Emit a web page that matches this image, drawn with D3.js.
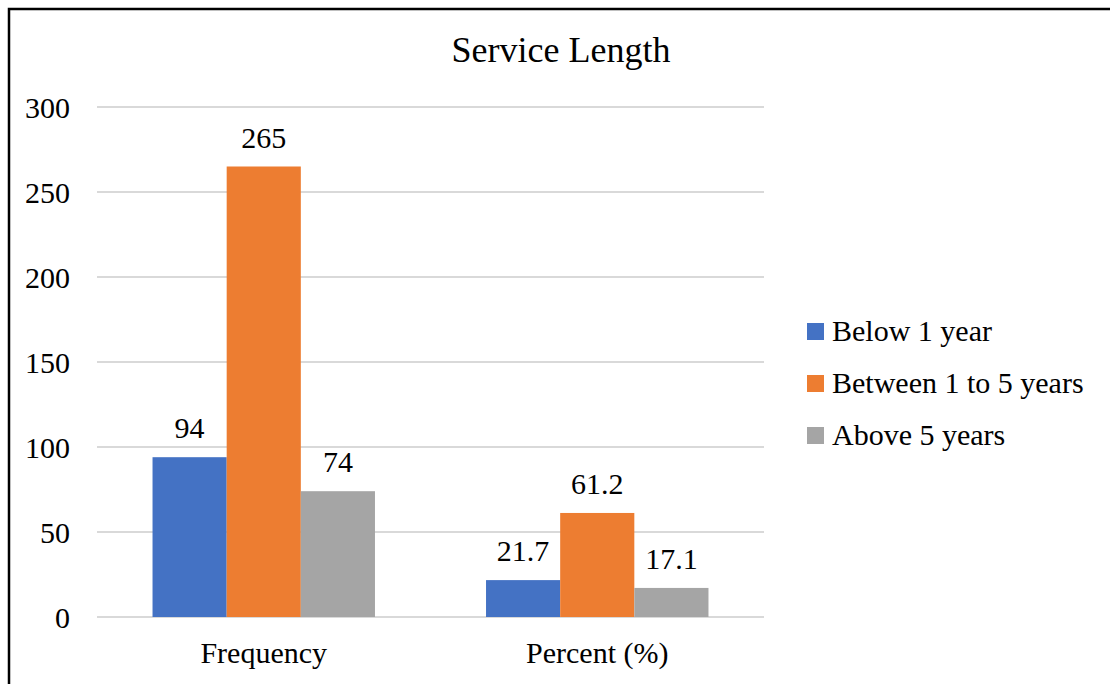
<!DOCTYPE html>
<html>
<head>
<meta charset="utf-8">
<script src="https://cdn.jsdelivr.net/npm/d3@7"></script>
<style>
  html, body { margin: 0; padding: 0; background: #fff; }
  svg { display: block; }
  text { font-family: "Liberation Serif", "DejaVu Serif", serif; fill: #000; }
</style>
</head>
<body>
<svg id="chart" width="1110" height="684"></svg>
<script>
// Service length survey results
const categories = ["Frequency", "Percent (%)"];
const seriesNames = ["Below 1 year", "Between 1 to 5 years", "Above 5 years"];
const belowOne = [94, 21.7];
const oneToFive = [265, 61.2];
const aboveFive = [74, 17.1];
const yTicks = [0, 50, 100, 150, 200, 250, 300];
const colors = ["#4472c4", "#ed7d31", "#a5a5a5"];

const seriesValues = [belowOne, oneToFive, aboveFive];

const svg = d3.select("#chart");
const W = 1110, H = 684;
const FS = 30;

// outer frame (left, top; right and bottom run past the edge)
svg.append("rect")
  .attr("x", 9).attr("y", 9)
  .attr("width", W + 10).attr("height", H + 10)
  .attr("fill", "#fff").attr("stroke", "#000").attr("stroke-width", 2.5);

const plot = { left: 97, right: 764, top: 107, bottom: 617 };

const x0 = d3.scaleBand().domain(categories)
  .range([plot.left, plot.right]).paddingInner(0.333).paddingOuter(0.1665);
const x1 = d3.scaleBand().domain(seriesNames)
  .range([0, x0.bandwidth()]).padding(0);
const y = d3.scaleLinear().domain([0, 300]).range([plot.bottom, plot.top]);

// title
svg.append("text")
  .attr("x", 561).attr("y", 62)
  .attr("text-anchor", "middle")
  .attr("font-size", 36)
  .text("Service Length");

// gridlines
svg.append("g").selectAll("line").data(yTicks).join("line")
  .attr("x1", plot.left).attr("x2", plot.right)
  .attr("y1", d => y(d)).attr("y2", d => y(d))
  .attr("stroke", "#d9d9d9").attr("stroke-width", 2);

// y axis labels
const yAxis = d3.axisLeft(y).tickValues(yTicks).tickSize(0).tickPadding(27);
const yg = svg.append("g").attr("transform", `translate(${plot.left},0)`).call(yAxis);
yg.select(".domain").remove();
yg.selectAll("text")
  .attr("font-size", FS)
  .attr("fill", "#000")
  .attr("dy", "0.35em");

// x axis labels
const xAxis = d3.axisBottom(x0).tickSize(0).tickPadding(25);
const xg = svg.append("g").attr("transform", `translate(0,${plot.bottom})`).call(xAxis);
xg.select(".domain").remove();
xg.selectAll("text")
  .attr("font-size", FS)
  .attr("fill", "#000");

// bars with value labels
const groups = svg.append("g").selectAll("g").data(categories).join("g")
  .attr("transform", d => `translate(${x0(d)},0)`);

groups.each(function(cat, ci) {
  const g = d3.select(this);
  seriesNames.forEach((s, si) => {
    const v = seriesValues[si][ci];
    g.append("rect")
      .attr("x", x1(s))
      .attr("y", y(v))
      .attr("width", x1.bandwidth())
      .attr("height", y(0) - y(v))
      .attr("fill", colors[si]);
    g.append("text")
      .attr("x", x1(s) + x1.bandwidth() / 2)
      .attr("y", y(v) - 19)
      .attr("text-anchor", "middle")
      .attr("font-size", FS)
      .text(v);
  });
});

// legend
const legend = svg.append("g").selectAll("g").data(seriesNames).join("g")
  .attr("transform", (d, i) => `translate(807,${330 + i * 52})`);
legend.append("rect")
  .attr("x", 0).attr("y", -7).attr("width", 17).attr("height", 17)
  .attr("fill", (d, i) => colors[i]);
legend.append("text")
  .attr("x", 25).attr("y", 0).attr("dy", "0.35em")
  .attr("font-size", FS)
  .text(d => d);
</script>
</body>
</html>
